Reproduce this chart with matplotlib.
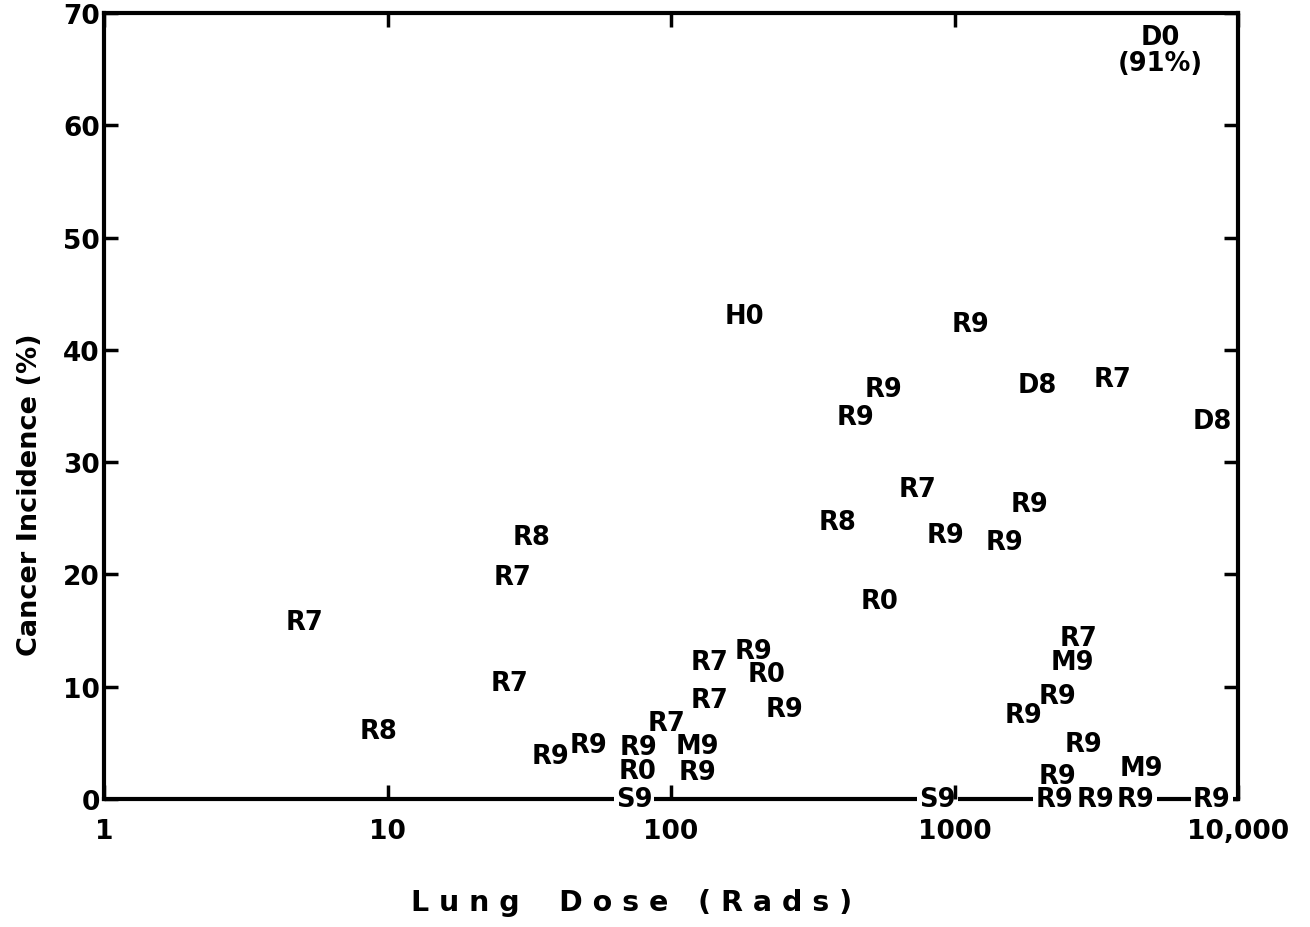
import matplotlib.pyplot as plt
import matplotlib.ticker as mticker

# each point is drawn as its label (study code) at (dose, incidence)
labels = ["H0", "R9", "R9", "R9", "D8", "R7", "D8",
          "R7", "R9", "R8", "R9", "R9",
          "R8", "R7", "R0", "R7", "R7", "R8",
          "R7", "M9", "R9", "R9", "R9", "R9", "M9",
          "R7", "R9", "R0", "R7", "R9", "R7",
          "R9", "R9", "R9", "M9", "R0", "R9",
          "S9", "S9", "R9", "R9", "R9", "R9"]
doses = [182, 1135, 560, 446, 1954, 3623, 8094,
         738, 1832, 388, 926, 1496,
         32.3, 27.7, 546, 5.1, 27.0, 9.3,
         2728, 2596, 2317, 1758, 2840, 2300, 4549,
         137, 196, 218, 137, 252, 96.8,
         37.7, 51, 76.5, 124, 76.5, 124,
         74, 870, 2244, 3131, 4367, 8094]
incidence = [43.0, 42.3, 36.5, 34.0, 36.9, 37.4, 33.7,
             27.6, 26.3, 24.7, 23.5, 22.9,
             23.3, 19.8, 17.6, 15.8, 10.3, 6.1,
             14.3, 12.2, 9.2, 7.5, 4.9, 2.05, 2.8,
             12.2, 13.2, 11.1, 8.8, 8.0, 6.8,
             3.8, 4.8, 4.6, 4.7, 2.5, 2.4,
             0, 0, 0, 0, 0, 0]

# the one point off the scale, shown in the corner
off_label = "D0\n(91%)"
off_dose = 5300
off_pos = 66.7

x_ticks = [1, 10, 100, 1000, 10000]
x_ticklabels = ["1", "10", "100", "1000", "10,000"]
y_ticks = [0, 10, 20, 30, 40, 50, 60, 70]

fig = plt.figure(figsize=(13.1, 9.28), dpi=100)
ax = fig.add_axes([104 / 1310, 1 - 800 / 928, 1134 / 1310, 786 / 928])

ax.set_xscale("log")
ax.set_xlim(1, 10000)
ax.set_ylim(0, 70)

for lab, d, v in zip(labels, doses, incidence):
    kw = {}
    if v == 0:
        # sits on the axis line and blanks it out behind the text
        kw["bbox"] = dict(facecolor="white", edgecolor="none", pad=1.5)
    ax.text(d, v, lab, ha="center", va="center", fontsize=18.5,
            fontweight="bold", clip_on=False, zorder=5, **kw)

ax.text(off_dose, off_pos, off_label, ha="center", va="center",
        fontsize=18.5, fontweight="bold", linespacing=1.0)

ax.set_xticks(x_ticks)
ax.set_xticklabels(x_ticklabels)
ax.xaxis.set_minor_locator(mticker.NullLocator())
ax.set_yticks(y_ticks)

ax.tick_params(direction="in", length=10, width=2.5, top=True, right=True,
               labelsize=19)
for lbl in ax.get_xticklabels() + ax.get_yticklabels():
    lbl.set_fontweight("bold")
ax.tick_params(axis="x", pad=14)
ax.tick_params(axis="y", pad=3)
# keep the tick marks visible over the blanked-out axis line
ax.xaxis.set_zorder(6)

for sp in ax.spines.values():
    sp.set_linewidth(3)

fig.text(30 / 1310, 1 - 495 / 928, "Cancer Incidence (%)", rotation=90,
         ha="center", va="center", fontsize=19.5, fontweight="bold")
fig.text(632 / 1310, 1 - 903 / 928, "L u n g    D o s e   ( R a d s )",
         ha="center", va="center", fontsize=20.5, fontweight="bold")

fig.savefig("out.png", dpi=100)
